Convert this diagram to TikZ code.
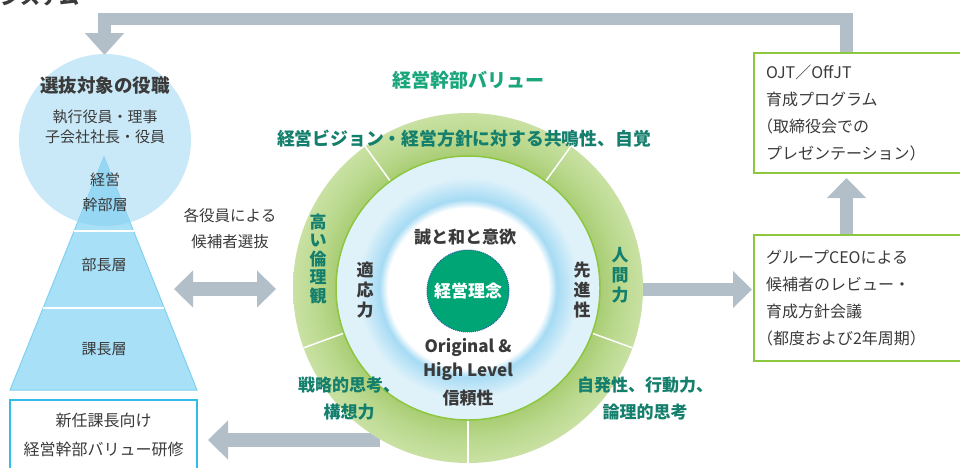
\documentclass[tikz,border=0pt]{standalone}
\usepackage{fontspec}
\setmainfont{Noto Sans CJK JP}
\usetikzlibrary{arrows.meta,calc}
\definecolor{arrowgray}{HTML}{B3BFC8}
\definecolor{circblue}{HTML}{C9E9F8}
\definecolor{pyrblue}{HTML}{A7E0F7}
\definecolor{pyrdeep}{HTML}{96D7F3}
\definecolor{pyrline}{HTML}{80D1F1}
\definecolor{boxblue}{HTML}{33BBEA}
\definecolor{boxgreen}{HTML}{8DC63F}
\definecolor{ringlight}{HTML}{C9E1A3}
\definecolor{ringmid}{HTML}{B9D88C}
\definecolor{ringdark}{HTML}{A9CD74}
\definecolor{ringline}{HTML}{8DC63F}
\definecolor{paleblue}{HTML}{DFF2FA}
\definecolor{glowblue}{HTML}{A6DBF4}
\definecolor{corefill}{HTML}{00A575}
\definecolor{coredot}{HTML}{2A5DA6}
\definecolor{valgreen}{HTML}{1AA67B}
\definecolor{teal}{HTML}{137F6C}
\definecolor{textgray}{HTML}{3A3A3A}
\newcommand{\narrowparen}{\makebox[7pt][r]{（}}
\pgfdeclareradialshading{ringshade}{\pgfpoint{0bp}{0bp}}{color(0bp)=(ringdark);color(18.9bp)=(ringdark);color(21.5bp)=(ringmid);color(25bp)=(ringlight);color(50bp)=(ringlight)}
\pgfdeclareradialshading{glowshade}{\pgfpoint{0bp}{0bp}}{color(0bp)=(white);color(15.2bp)=(white);color(16.8bp)=(glowblue);color(21bp)=(paleblue);color(25bp)=(paleblue);color(50bp)=(paleblue)}
\begin{document}
\begin{tikzpicture}[x=1pt,y=1pt,
    bar/.style={draw=arrowgray,line width=13pt},
    tip/.style={-{Triangle[length=20pt,width=38pt]}},
    plain/.style={text=textgray,font=\fontsize{15}{21}\selectfont,inner sep=0pt},
    strong/.style={text=textgray,font=\bfseries\fontsize{17}{24}\selectfont,inner sep=0pt,align=center},
    ringtxt/.style={text=teal,font=\bfseries\fontsize{17}{27}\selectfont,inner sep=0pt,align=center},
    vert/.style={font=\bfseries\fontsize{17}{20}\selectfont,inner sep=0pt,align=center},
    greenbox/.style={draw=boxgreen,line width=2pt,anchor=north west,text width=200pt,inner xsep=12pt,
        align=left,text=textgray,font=\fontsize{16}{27}\selectfont}]
    \useasboundingbox (0,0) rectangle (960,-467);
    \node[anchor=base east,text=textgray,font=\bfseries\fontsize{20}{24}\selectfont,inner sep=0pt] (title) at (80,-4.5) {システム};
    % gray arrows
    \coordinate (fbA) at (846.5,-52);
    \coordinate (fbB) at (104.5,-55);
    \draw[bar,line width=12.5pt,-{Triangle[length=22pt,width=38pt]}] (fbA) -- ++(0,33) -| (fbB);
    \coordinate (upA) at (846.5,-234);
    \coordinate (upB) at (846.5,-178);
    \draw[bar,tip] (upA) -- (upB);
    \coordinate (rA) at (640,-289.5);
    \coordinate (rB) at (752,-289.5);
    \draw[bar,-{Triangle[length=19pt,width=36pt]}] (rA) -- (rB);
    \coordinate (selL) at (174,-289);
    \coordinate (selR) at (276,-289);
    \draw[bar,line width=14pt,{Triangle[length=19pt,width=36pt]}-{Triangle[length=19pt,width=36pt]}] (selL) -- (selR);
    \coordinate (bA) at (380,-440);
    \coordinate (bB) at (208,-440);
    \draw[bar,line width=14pt,-{Triangle[length=20pt,width=38pt]}] (bA) -- (bB);
    % selection target
    \node[circle,fill=circblue,minimum size=172pt,inner sep=0pt] (target) at (105,-140) {};
    \fill[pyrblue,draw=pyrline,line width=1pt] (104,-157) -- (197,-390) -- (10,-390) -- cycle;
    \begin{scope}
        \clip (target.center) circle[radius=86];
        \fill[pyrdeep] (104,-157) -- (197,-390) -- (10,-390) -- cycle;
    \end{scope}
    \draw[white,line width=1.5pt] (74,-231) -- (133.5,-231);
    \draw[white,line width=1.5pt] (43,-308) -- (164,-308);
    \node[text=textgray,font=\bfseries\fontsize{18.5}{24}\selectfont,inner sep=0pt] (posts) at (105,-85) {選抜対象の役職};
    \node[plain] (exec) at (105,-117) {執行役員・理事};
    \node[plain] (subs) at (105,-137) {子会社社長・役員};
    \node[plain,align=center,font=\fontsize{15}{25}\selectfont] (top) at (105,-192.5) {経営\\幹部層};
    \node[plain] (gm) at (104,-265) {部長層};
    \node[plain] (mgr) at (104,-349) {課長層};
    \node[plain,align=center,font=\fontsize{15.5}{26}\selectfont] (choose) at (230,-228.5) {各役員による\\候補者選抜};
    \node[draw=boxblue,line width=2.2pt,minimum width=187pt,minimum height=70pt,align=center,
        text=textgray,font=\fontsize{16}{29}\selectfont] (newmgr) at (103.5,-435) {新任課長向け\\経営幹部バリュー研修};
    % values circle
    \coordinate (vc) at (468,-288);
    \shade[shading=ringshade] (vc) circle[radius=175];
    \foreach \a in {54,126,200,270,340}
        \draw[white,line width=1.5pt] ($(vc)+(\a:131)$) -- ($(vc)+(\a:175)$);
    \shadedraw[shading=glowshade,draw=ringline,line width=1.5pt] (vc) circle[radius=132];
    \node[circle,fill=corefill,draw=coredot,densely dotted,line width=1pt,minimum size=82pt,inner sep=0pt,
        text=white,font=\bfseries\fontsize{17}{20}\selectfont] (core) at (468,-291) {経営理念};
    \node[text=valgreen,font=\bfseries\fontsize{19}{24}\selectfont,inner sep=0pt] (vtitle) at (468,-80) {経営幹部バリュー};
    \node[ringtxt,font=\bfseries\fontsize{17.8}{27}\selectfont] (vision) at (464,-139) {経営ビジョン・経営方針に対する共鳴性、自覚};
    \node[vert,text=teal,font=\bfseries\fontsize{17}{18.5}\selectfont] (ethic) at (318,-258.5) {高\\い\\倫\\理\\観};
    \node[vert,text=teal] (human) at (620,-275) {人\\間\\力};
    \node[vert,text=textgray] (adapt) at (365,-290) {適\\応\\力};
    \node[vert,text=textgray] (lead) at (582,-290) {先\\進\\性};
    \node[strong] (sincere) at (465,-237) {誠と和と意欲};
    \node[strong,font=\bfseries\fontsize{17}{24.5}\selectfont] (orig) at (468,-359.5) {Original \&\\High Level};
    \node[strong] (trust) at (468,-398) {信頼性};
    \node[ringtxt] (strat) at (349,-398.5) {戦略的思考、\\構想力};
    \node[ringtxt] (action) at (645,-398.5) {自発性、行動力、\\論理的思考};
    % right boxes
    \node[greenbox,minimum height=120pt] (ojt) at (753,-52) {OJT／OffJT\\育成プログラム\\\narrowparen 取締役会での\\プレゼンテーション）};
    \node[greenbox,minimum height=126pt] (review) at (753,-234) {グループCEOによる\\候補者のレビュー・\\育成方針会議\\\narrowparen 都度および2年周期）};
\end{tikzpicture}
\end{document}
